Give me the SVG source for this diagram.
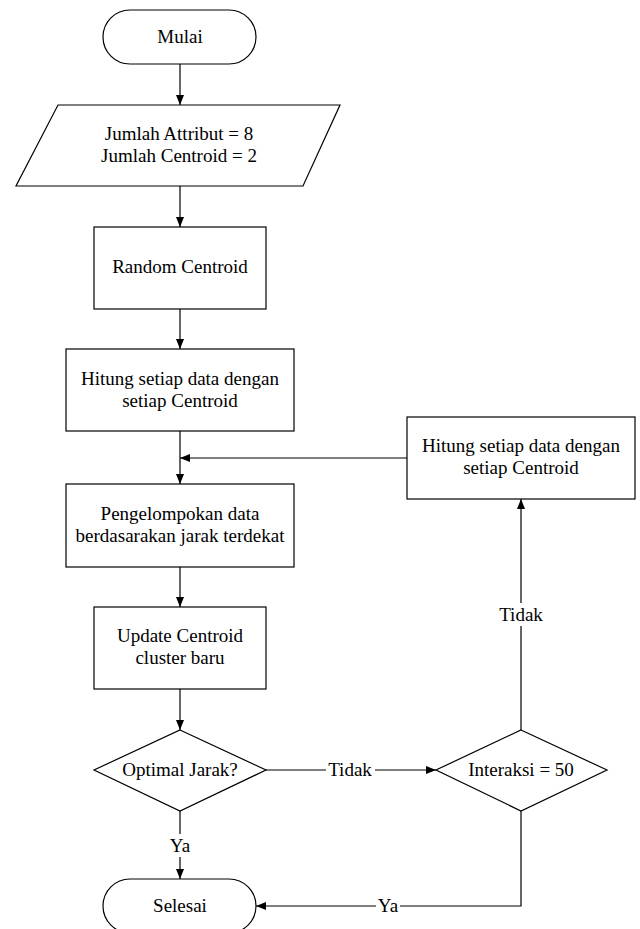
<svg xmlns="http://www.w3.org/2000/svg" width="640" height="929" viewBox="0 0 640 929">
<defs>
<style>
.s{fill:#fff;stroke:#000;stroke-width:1.2}
.c{fill:none;stroke:#000;stroke-width:1.2}
text{font-family:"Liberation Serif","Times New Roman",serif;font-size:19px;fill:#000;text-anchor:middle}
</style>
<marker id="ah" markerUnits="userSpaceOnUse" markerWidth="10" markerHeight="8" refX="10" refY="4" orient="auto">
<path d="M0,0 L10,4 L0,8 z" fill="#000"/>
</marker>
</defs>
<rect width="640" height="929" fill="#fff"/>
<g id="connectors">
<path class="c" d="M180,64 V105" marker-end="url(#ah)"/>
<path class="c" d="M180,186 V227" marker-end="url(#ah)"/>
<path class="c" d="M180,309 V349" marker-end="url(#ah)"/>
<path class="c" d="M180,431 V484" marker-end="url(#ah)"/>
<path class="c" d="M180,567 V607" marker-end="url(#ah)"/>
<path class="c" d="M180,689 V730" marker-end="url(#ah)"/>
<path class="c" d="M407,458 H180" marker-end="url(#ah)"/>
<path class="c" d="M180,811 V834"/>
<path class="c" d="M180,857 V879" marker-end="url(#ah)"/>
<text x="180" y="852">Ya</text>
<path class="c" d="M266,770 H326"/>
<path class="c" d="M375,770 H436" marker-end="url(#ah)"/>
<text x="350" y="776">Tidak</text>
<path class="c" d="M521,730 V626"/>
<path class="c" d="M521,603 V499" marker-end="url(#ah)"/>
<text x="521" y="621">Tidak</text>
<path class="c" d="M521,811 V906 H400"/>
<path class="c" d="M376,906 H256" marker-end="url(#ah)"/>
<text x="388" y="912">Ya</text>
</g>
<g id="mulai">
<rect class="s" x="103" y="10" width="153" height="54" rx="27"/>
<text x="180" y="43">Mulai</text>
</g>
<g id="input">
<polygon class="s" points="58,105 340,105 303,186 16,186"/>
<text x="179" y="140">Jumlah Attribut = 8</text>
<text x="179" y="162">Jumlah Centroid = 2</text>
</g>
<g id="random">
<rect class="s" x="94" y="227" width="172" height="82"/>
<text x="180" y="273">Random Centroid</text>
</g>
<g id="hitung1">
<rect class="s" x="66" y="349" width="228" height="82"/>
<text x="180" y="385">Hitung setiap data dengan</text>
<text x="180" y="407">setiap Centroid</text>
</g>
<g id="pengelompokan">
<rect class="s" x="66" y="484" width="228" height="83"/>
<text x="180" y="520">Pengelompokan data</text>
<text x="180" y="542">berdasarakan jarak terdekat</text>
</g>
<g id="update">
<rect class="s" x="94" y="607" width="172" height="82"/>
<text x="180" y="642">Update Centroid</text>
<text x="180" y="664">cluster baru</text>
</g>
<g id="optimal">
<polygon class="s" points="180,730 266,770 180,811 94,770"/>
<text x="180" y="776">Optimal Jarak?</text>
</g>
<g id="interaksi">
<polygon class="s" points="521,730 607,770 521,811 436,770"/>
<text x="521" y="776">Interaksi = 50</text>
</g>
<g id="hitung2">
<rect class="s" x="407" y="417" width="228" height="82"/>
<text x="521" y="452">Hitung setiap data dengan</text>
<text x="521" y="474">setiap Centroid</text>
</g>
<g id="selesai">
<rect class="s" x="103" y="879" width="153" height="54" rx="27"/>
<text x="180" y="912">Selesai</text>
</g>
</svg>
